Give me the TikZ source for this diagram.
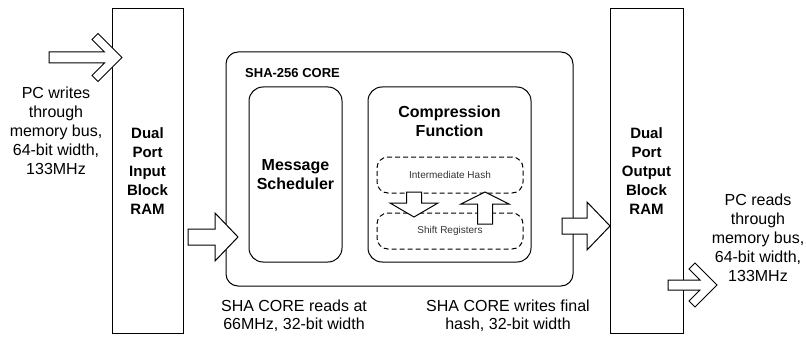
\documentclass[tikz,border=0pt]{standalone}
\usepackage{fontspec}
\setmainfont{Liberation Sans}
\begin{document}
\begin{tikzpicture}[x=1pt,y=-1pt,
  lw/.style={line width=1pt},
  ram/.style={draw,lw,inner sep=0pt,align=center,font=\fontsize{15}{19}\selectfont\bfseries},
  rbox/.style={draw,lw,inner sep=0pt,rounded corners=14pt},
  dbox/.style={draw,lw,dash pattern=on 5pt off 3pt,inner sep=0pt,rounded corners=11pt,text=black!80,font=\fontsize{10}{12}\selectfont},
  lbl/.style={inner sep=0pt,align=center,font=\fontsize{16}{18.3}\selectfont},
  side/.style={inner sep=0pt,align=center,font=\fontsize{16}{19}\selectfont},
  barrow/.style={draw,lw,fill=white,line join=miter}]
\useasboundingbox (0,0) rectangle (806,337);
% RAM blocks
\node[ram,minimum width=71pt,minimum height=324pt] (inram) at (147.5,171) {Dual\\Port\\Input\\Block\\RAM};
\node[ram,minimum width=73pt,minimum height=324pt] (outram) at (646.5,171) {Dual\\Port\\Output\\Block\\RAM};
% SHA core
\node[rbox,rounded corners=12pt,minimum width=347pt,minimum height=234pt] (core) at (399.5,169) {};
\node[inner sep=0pt,anchor=west,font=\fontsize{13}{15}\selectfont\bfseries] (corelbl) at (245,73) {SHA-256 CORE};
\node[rbox,minimum width=93pt,minimum height=175pt,align=center,font=\fontsize{16}{19}\selectfont\bfseries] (msg) at (295.5,174.5) {Message\\Scheduler};
\node[rbox,minimum width=163pt,minimum height=175pt] (comp) at (449.5,174.5) {};
\node[inner sep=0pt,align=center,font=\fontsize{16}{19}\selectfont\bfseries] (comptxt) at (449.5,121) {Compression\\Function};
\node[dbox,minimum width=146pt,minimum height=36pt] (ih) at (450,175) {Intermediate Hash};
\node[dbox,minimum width=146pt,minimum height=36pt] (sr) at (450,231) {Shift Registers};
% labels
\node[side] (t1) at (56,131) {PC writes\\through\\memory bus,\\64-bit width,\\133MHz};
\node[side] (t2) at (758,238) {PC reads\\through\\memory bus,\\64-bit width,\\133MHz};
\node[lbl] (t3) at (294,316) {SHA CORE reads at\\66MHz, 32-bit width};
\node[lbl] (t4) at (508,316) {SHA CORE writes final\\hash, 32-bit width};
% block arrows
\draw[barrow] (49,52) -- (104.5,52) -- (92,39.5) -- (98,33.5) -- (122,57.5) -- (98,81.5) -- (92,75.5) -- (104.5,63) -- (49,63) -- cycle;
\draw[barrow] (188,229) -- (215,229) -- (215,213) -- (238,237) -- (215,261) -- (215,245) -- (188,245) -- cycle;
\draw[barrow] (562,218) -- (587,218) -- (587,202) -- (610,226) -- (587,250) -- (587,234) -- (562,234) -- cycle;
\draw[barrow] (668,280) -- (700,280) -- (689,269) -- (695,263) -- (717,285) -- (695,307) -- (689,301) -- (700,290) -- (668,290) -- cycle;
% internal arrows
\draw[barrow] (406.5,192) -- (421.5,192) -- (421.5,203) -- (438,203) -- (414,217) -- (390,203) -- (406.5,203) -- cycle;
\draw[barrow] (477.5,224) -- (492.5,224) -- (492.5,204) -- (509,204) -- (485,192) -- (461,204) -- (477.5,204) -- cycle;
\end{tikzpicture}
\end{document}
